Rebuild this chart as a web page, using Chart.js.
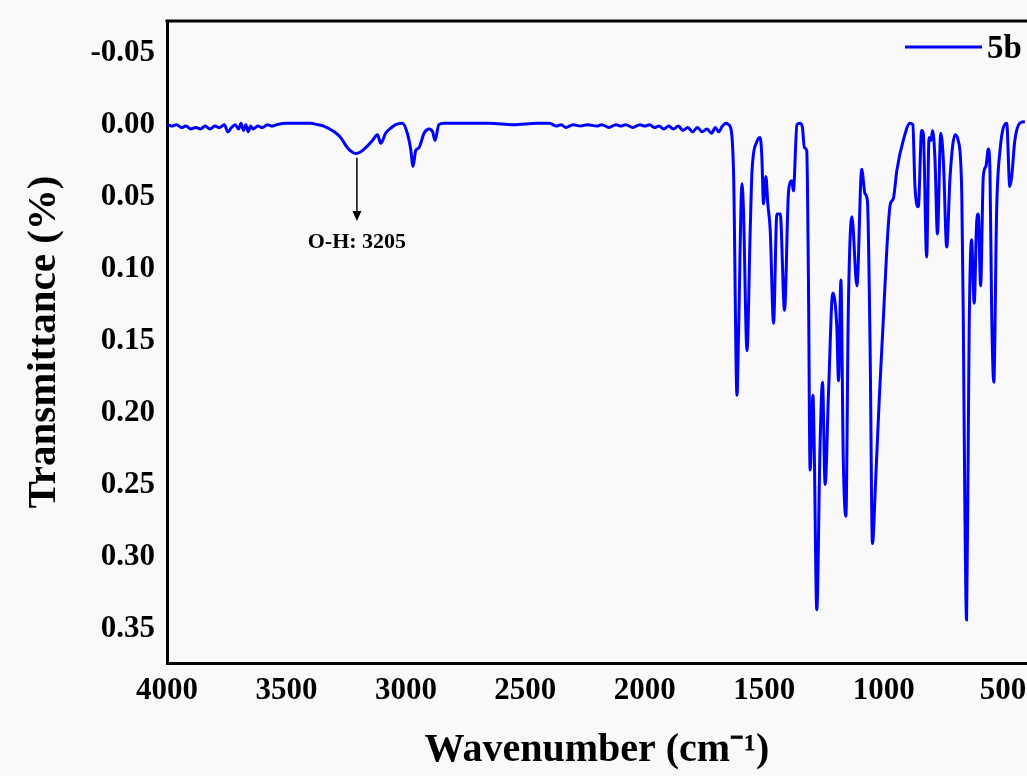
<!DOCTYPE html>
<html lang="en">
<head>
<meta charset="UTF-8">
<title>FTIR spectrum 5b</title>
<style>
  html, body { margin: 0; padding: 0; background: #f9f9f9; overflow: hidden; }
  canvas { display: block; }
</style>
<script src="https://cdn.jsdelivr.net/npm/chart.js@4.4.1/dist/chart.umd.min.js"></script>
</head>
<body>
<canvas id="ftir" width="1027" height="776"></canvas>
<script>
// spectrum (cm-1 / transmittance)
const wavenumber = [
  4000, 3980, 3960, 3940, 3920, 3900, 3880, 3860, 3840, 3820, 3800, 3780, 3760, 3745, 3730, 3715,
  3700, 3690, 3680, 3670, 3660, 3650, 3640, 3620, 3600, 3580, 3560, 3540, 3500, 3450, 3400, 3370,
  3344, 3300, 3273, 3245, 3225, 3210, 3190, 3168, 3140, 3119, 3105, 3085, 3060, 3043, 3015, 2994,
  2980, 2970, 2959, 2945, 2924, 2903, 2888, 2878, 2862, 2840, 2750, 2650, 2550, 2450, 2400, 2370,
  2350, 2330, 2300, 2270, 2240, 2200, 2180, 2150, 2120, 2100, 2080, 2050, 2020, 2000, 1980, 1960,
  1940, 1920, 1900, 1880, 1860, 1840, 1820, 1800, 1780, 1760, 1740, 1720, 1705, 1690, 1675, 1660,
  1650, 1638, 1628, 1614, 1607, 1593, 1587, 1572, 1559, 1551, 1531, 1517, 1510, 1503, 1493, 1485,
  1475, 1461, 1447, 1433, 1415, 1398, 1384, 1378, 1363, 1350, 1340, 1332, 1322, 1315, 1308, 1296,
  1291, 1280, 1266, 1256, 1245, 1231, 1213, 1196, 1189, 1179, 1169, 1158, 1148, 1133, 1112, 1092,
  1078, 1068, 1057, 1047, 1033, 1018, 1001, 987, 973, 959, 945, 918, 890, 878, 869, 855,
  841, 834, 820, 810, 802, 795, 785, 775, 761, 750, 736, 722, 701, 688, 673, 667,
  660, 653, 646, 642, 632, 621, 611, 604, 594, 583, 572, 562, 555, 548, 539, 527,
  513, 485, 472, 464, 451, 430, 409
];
const transmittance = [
  0.001, 0.002, 0.001, 0.003, 0.002, 0.004, 0.003, 0.004, 0.002, 0.004, 0.002, 0.003, 0.001, 0.006, 0.003, 0.001,
  0.004, 0.000, 0.005, 0.001, 0.006, 0.002, 0.004, 0.002, 0.003, 0.001, 0.002, 0.001, 0.000, 0.000, 0.000, 0.001,
  0.002, 0.006, 0.010, 0.017, 0.020, 0.021, 0.020, 0.017, 0.012, 0.008, 0.014, 0.007, 0.003, 0.001, 0.000, 0.007,
  0.018, 0.030, 0.019, 0.017, 0.007, 0.004, 0.006, 0.012, 0.001, 0.000, 0.000, 0.000, 0.001, 0.000, 0.000, 0.002,
  0.001, 0.003, 0.001, 0.002, 0.001, 0.002, 0.001, 0.003, 0.001, 0.002, 0.001, 0.003, 0.001, 0.002, 0.001, 0.003,
  0.002, 0.004, 0.002, 0.004, 0.002, 0.005, 0.003, 0.006, 0.003, 0.006, 0.004, 0.007, 0.003, 0.006, 0.002, 0.000,
  0.001, 0.005, 0.037, 0.189, 0.142, 0.042, 0.060, 0.158, 0.077, 0.033, 0.013, 0.010, 0.023, 0.056, 0.037, 0.056,
  0.074, 0.139, 0.063, 0.063, 0.130, 0.047, 0.040, 0.047, 0.001, 0.000, 0.003, 0.017, 0.019, 0.107, 0.241, 0.189,
  0.222, 0.338, 0.222, 0.180, 0.251, 0.188, 0.118, 0.142, 0.179, 0.109, 0.234, 0.273, 0.130, 0.065, 0.113, 0.032,
  0.049, 0.054, 0.153, 0.292, 0.246, 0.190, 0.135, 0.088, 0.057, 0.052, 0.033, 0.012, 0.000, 0.001, 0.044, 0.058,
  0.005, 0.007, 0.093, 0.010, 0.012, 0.005, 0.026, 0.077, 0.007, 0.026, 0.086, 0.037, 0.008, 0.012, 0.049, 0.130,
  0.269, 0.345, 0.222, 0.142, 0.081, 0.125, 0.070, 0.063, 0.113, 0.037, 0.030, 0.018, 0.033, 0.130, 0.180, 0.060,
  0.019, 0.000, 0.044, 0.037, 0.012, 0.000, -0.001
];

const xTicks = [500, 1000, 1500, 2000, 2500, 3000, 3500, 4000];
const yTicks = [-0.05, 0.00, 0.05, 0.10, 0.15, 0.20, 0.25, 0.30, 0.35];
const seriesLabel = '5b';
const peakLabel = 'O-H: 3205';
const peakPos = 3205;

const SERIF = "'Liberation Serif', 'Times New Roman', serif";
const BLUE = '#0000ff';

// top edge of the box (left and bottom come from the axis borders)
const frame = {
  id: 'frame',
  afterDraw(chart) {
    const { ctx, chartArea: a } = chart;
    ctx.save();
    ctx.strokeStyle = '#000';
    ctx.lineWidth = 3;
    ctx.beginPath();
    ctx.moveTo(a.left - 1.5, a.top);
    ctx.lineTo(a.right, a.top);
    ctx.stroke();
    ctx.restore();
  }
};

// legend sits inside the plot, top right
const innerLegend = {
  id: 'innerLegend',
  afterDraw(chart) {
    const { ctx, chartArea: a } = chart;
    const ds = chart.data.datasets[0];
    const y = a.top + 26;
    ctx.save();
    ctx.strokeStyle = ds.borderColor;
    ctx.lineWidth = 3;
    ctx.beginPath();
    ctx.moveTo(a.right - 122, y);
    ctx.lineTo(a.right - 45, y);
    ctx.stroke();
    ctx.fillStyle = '#000';
    ctx.font = 'bold 33px ' + SERIF;
    ctx.textBaseline = 'middle';
    ctx.fillText(ds.label, a.right - 40, y + 2);
    ctx.restore();
  }
};

// arrow + label under the O-H band
const peakNote = {
  id: 'peakNote',
  afterDatasetsDraw(chart) {
    const { ctx, scales: { x, y } } = chart;
    const px = x.getPixelForValue(peakPos);
    const y0 = y.getPixelForValue(0.024);
    const y1 = y.getPixelForValue(0.068);
    const yt = y.getPixelForValue(0.083);
    ctx.save();
    ctx.strokeStyle = '#000';
    ctx.fillStyle = '#000';
    ctx.lineWidth = 1.5;
    ctx.beginPath();
    ctx.moveTo(px, y0);
    ctx.lineTo(px, y1 - 8);
    ctx.stroke();
    ctx.beginPath();
    ctx.moveTo(px - 4.5, y1 - 10);
    ctx.lineTo(px + 4.5, y1 - 10);
    ctx.lineTo(px, y1);
    ctx.closePath();
    ctx.fill();
    ctx.font = 'bold 22px ' + SERIF;
    ctx.textAlign = 'center';
    ctx.textBaseline = 'middle';
    ctx.fillText(peakLabel, px, yt);
    ctx.restore();
  }
};

const points = wavenumber.map((w, i) => ({ x: w, y: transmittance[i] }));

new Chart(document.getElementById('ftir'), {
  type: 'line',
  data: {
    datasets: [{
      label: seriesLabel,
      data: points,
      borderColor: BLUE,
      borderWidth: 3,
      pointRadius: 0,
      fill: false,
      cubicInterpolationMode: 'monotone'
    }]
  },
  options: {
    responsive: false,
    animation: false,
    devicePixelRatio: 1,
    layout: { padding: { top: 21, right: 0, bottom: 0, left: 0 } },
    plugins: { legend: { display: false }, tooltip: { enabled: false } },
    scales: {
      x: {
        type: 'linear',
        reverse: true,
        min: 400,
        max: 4000,
        afterBuildTicks: s => { s.ticks = xTicks.map(v => ({ value: v })); },
        afterFit: s => { s.height = 113; s.paddingLeft = 0; s.paddingRight = 0; },
        grid: { display: false, drawTicks: false },
        border: { display: true, color: '#000', width: 3 },
        ticks: {
          padding: 9,
          color: '#000',
          font: { family: SERIF, size: 31, weight: 'bold' },
          maxRotation: 0,
          callback: v => String(v)
        },
        title: {
          display: true,
          text: 'Wavenumber (cm\u207B\u00B9)',
          color: '#000',
          font: { family: SERIF, size: 40, weight: 'bold' },
          padding: { top: 0, bottom: 1 }
        }
      },
      y: {
        type: 'linear',
        reverse: true,
        min: -0.071,
        max: 0.375,
        afterBuildTicks: s => { s.ticks = yTicks.map(v => ({ value: v })); },
        afterFit: s => { s.width = 167; s.paddingTop = 0; s.paddingBottom = 0; },
        grid: { display: false, drawTicks: false },
        border: { display: true, color: '#000', width: 3 },
        ticks: {
          padding: 12,
          labelOffset: 2,
          color: '#000',
          font: { family: SERIF, size: 31, weight: 'bold' },
          callback: v => v.toFixed(2)
        },
        title: {
          display: true,
          text: 'Transmittance (%)',
          color: '#000',
          font: { family: SERIF, size: 41, weight: 'bold' },
          padding: { top: 20, bottom: 0 }
        }
      }
    }
  },
  plugins: [frame, innerLegend, peakNote]
});
</script>
</body>
</html>
